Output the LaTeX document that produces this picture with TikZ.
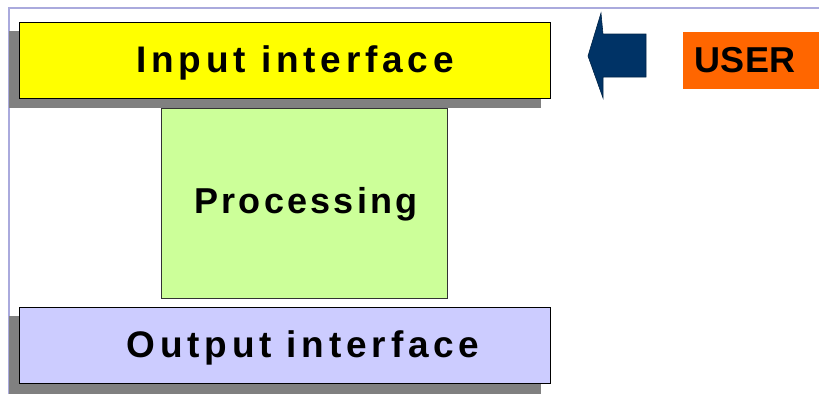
\documentclass[tikz,border=0pt]{standalone}
\usepackage{fontspec}
\setmainfont{Liberation Sans}
\definecolor{frameblue}{HTML}{AAAADD}
\definecolor{inyellow}{HTML}{FFFF00}
\definecolor{procgreen}{HTML}{CCFF99}
\definecolor{outlav}{HTML}{CCCCFF}
\definecolor{shadowgray}{HTML}{808080}
\definecolor{arrowblue}{HTML}{003366}
\definecolor{userorange}{HTML}{FF6600}
\begin{document}
\begin{tikzpicture}[x=1pt,y=-1pt,
  boxshape/.style={draw=black,line width=0.8pt},
  shadowshape/.style={fill=shadowgray,draw=none},
  lbl/.style={anchor=base,inner sep=0pt,font=\bfseries\fontsize{36}{40}\selectfont},
  biglbl/.style={lbl,font=\bfseries\fontsize{37}{40}\selectfont}]
\useasboundingbox (0,0) rectangle (819,394);
% frame lines
\draw[frameblue,line width=2pt] (8.5,394) -- (8.5,7.5) -- (819,7.5);
% input interface
\fill[shadowshape] (9,31) rectangle (541,108);
\draw[boxshape,fill=inyellow] (19,22) rectangle (550,98);
% processing
\draw[draw=black!80,line width=0.8pt,fill=procgreen] (161,108) rectangle (447,298);
% output interface
\fill[shadowshape] (9,316) rectangle (541,394);
\draw[boxshape,fill=outlav] (19,307) rectangle (550,383);
% labels
\node[biglbl] (inlbl) at (295,72) {\addfontfeature{LetterSpace=13}Input interface};
\node[lbl] (proclbl) at (306,213) {\addfontfeature{LetterSpace=9}Processing};
\node[biglbl] (outlbl) at (303,357) {\addfontfeature{LetterSpace=13}Output interface};
% arrow
\draw[arrowblue!70!black,line width=0.6pt,fill=arrowblue,line join=miter]
  (588,56) -- (601,13) -- (603,34) -- (646,34) -- (646,77) -- (603,77) -- (603,98) -- cycle;
% user
\fill[userorange] (683,32) rectangle (819,89);
\node[lbl] (userlbl) at (745,72) {USER};
\end{tikzpicture}
\end{document}
